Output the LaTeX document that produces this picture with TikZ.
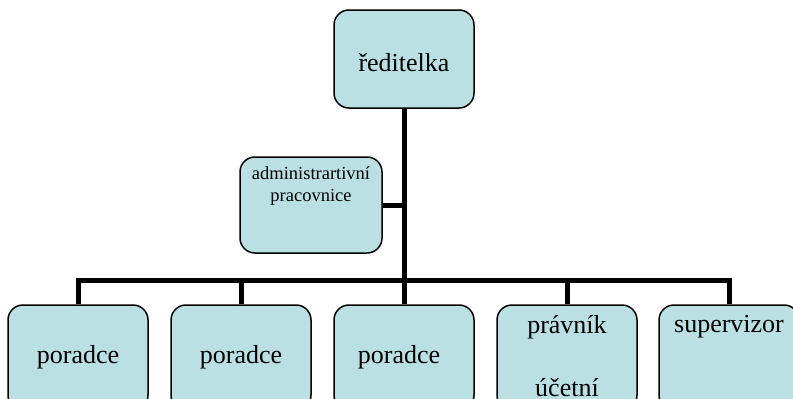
\documentclass[tikz,border=0pt]{standalone}
\usepackage{fontspec}
\setmainfont{Liberation Serif}
\definecolor{boxfill}{HTML}{BBE0E3}
\begin{document}
\begin{tikzpicture}[x=1pt,y=-1pt,
  box/.style={draw=black,line width=1.5pt,fill=boxfill,rounded corners=15pt,
    minimum width=140pt,minimum height=98pt,inner sep=0pt},
  lowbox/.style={box,minimum height=105pt},
  lbl/.style={font=\fontsize{26}{30}\selectfont,inner sep=0pt},
  small/.style={font=\fontsize{18.5}{22}\selectfont,inner sep=0pt,align=center},
  conn/.style={line width=5pt}]
\useasboundingbox (0,0) rectangle (793,399);
\clip (0,0) rectangle (793,399);
% connectors first
\coordinate (bar) at (404,280);
% boxes
\node[box] (dir) at (404,59) {};
\node[lbl] (tdir) at (404,63) {ředitelka};
\node[box,minimum width=142pt,minimum height=96pt] (adm) at (311,205) {};
\node[small] (tadm) at (311,186) {administrartivní\\pracovnice};
\node[lowbox] (p1) at (78,357.5) {};
\node[lowbox] (p2) at (241,357.5) {};
\node[lowbox] (p3) at (404,357.5) {};
\node[lowbox] (p4) at (567,357.5) {};
\node[lowbox] (p5) at (729,357.5) {};
\node[lbl] (t1) at (78,357) {poradce};
\node[lbl] (t2) at (241,357) {poradce};
\node[lbl] (t3) at (399,357) {poradce};
\node[lbl] (t4a) at (567,327) {právník};
\node[lbl] (t4b) at (567,388) {účetní};
\node[lbl] (t5) at (729,327) {supervizor};
% connectors
\draw[conn] (dir.south) -- (p3.north);
\draw[conn] (adm.east) -- (adm.east -| dir.south);
\draw[conn] (p1.north) -- (p1.north |- bar) -- (p5.north |- bar) -- (p5.north);
\draw[conn] (p2.north) -- (p2.north |- bar);
\draw[conn] (p4.north) -- (p4.north |- bar);
\end{tikzpicture}
\end{document}
